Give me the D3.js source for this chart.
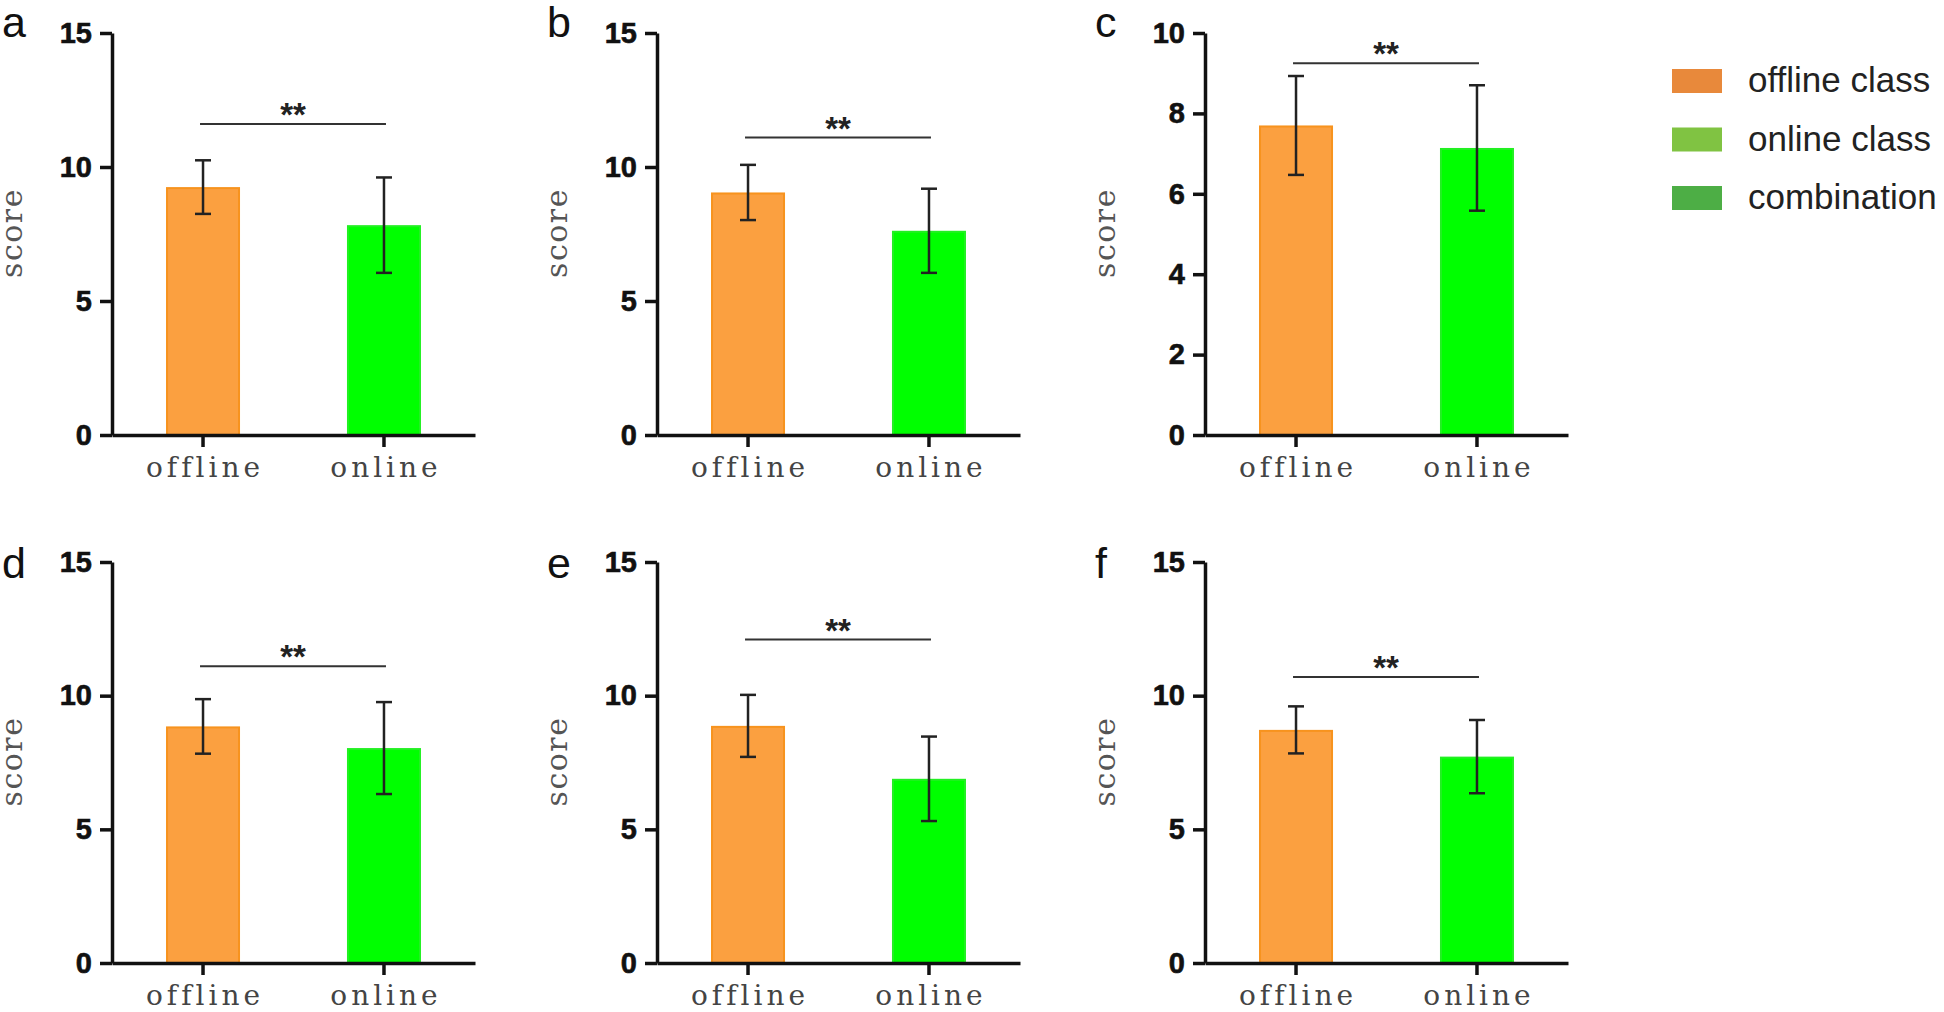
<!DOCTYPE html>
<html>
<head>
<meta charset="utf-8">
<script src="https://cdn.jsdelivr.net/npm/d3@7"></script>
<style>
  body { margin: 0; background: #fff; }
</style>
</head>
<body>
<div id="chart"></div>
<script>
// values
const panels      = ['a', 'b', 'c', 'd', 'e', 'f']
const groups      = ['offline', 'online']
const offlineMean = [9.25, 9.05, 7.70, 8.85, 8.87, 8.72]
const offlineSD   = [1.00, 1.03, 1.23, 1.02, 1.16, 0.88]
const onlineMean  = [7.83, 7.62, 7.14, 8.04, 6.89, 7.72]
const onlineSD    = [1.78, 1.57, 1.56, 1.72, 1.58, 1.37]
const sigLevel    = [11.6, 11.1, 9.25, 11.1, 12.1, 10.7]
const yMax        = [15, 15, 10, 15, 15, 15]
const yTicks      = [[0, 5, 10, 15], [0, 5, 10, 15], [0, 2, 4, 6, 8, 10],
                     [0, 5, 10, 15], [0, 5, 10, 15], [0, 5, 10, 15]]
const legendNames  = ['offline class', 'online class', 'combination']
const legendColors = ['#e8893b', '#80c342', '#4dae45']

const width = 1944
const height = 1012
const colX = [112, 657, 1205]
const rowTop = [33, 562]
const rowZero = [435, 963]
const rowLabelBase = [37, 578]
const plotW = 363

const svg = d3.select('#chart')
  .append('svg')
  .attr('width', width)
  .attr('height', height)

const x = d3.scaleBand()
  .domain(groups)
  .range([0, plotW])
  .paddingInner(0.591)
  .paddingOuter(0.2985)

const fills = { offline: '#fba040', online: '#00ff00' }
const strokes = { offline: '#f7931e', online: '#22f022' }

panels.forEach((p, i) => {
  const col = i % 3, row = Math.floor(i / 3)
  const top = rowTop[row], zero = rowZero[row]
  const g = svg.append('g').attr('transform', `translate(${colX[col]},0)`)

  const y = d3.scaleLinear().domain([0, yMax[i]]).range([zero, top])

  const data = [
    { group: 'offline', mean: offlineMean[i], sd: offlineSD[i] },
    { group: 'online', mean: onlineMean[i], sd: onlineSD[i] }
  ]

  g.selectAll('rect.bar')
    .data(data)
    .join('rect')
      .attr('class', 'bar')
      .attr('x', d => x(d.group) + 1)
      .attr('y', d => y(d.mean) + 1)
      .attr('width', x.bandwidth() - 2)
      .attr('height', d => y(0) - y(d.mean) - 1)
      .attr('fill', d => fills[d.group])
      .attr('stroke', d => strokes[d.group])
      .attr('stroke-width', 2)

  // error bars
  const cx = d => x(d.group) + x.bandwidth() / 2
  const eb = g.append('g').attr('stroke', '#222').attr('stroke-width', 2.5)
  eb.selectAll('line.v').data(data).join('line')
    .attr('x1', cx).attr('x2', cx)
    .attr('y1', d => y(d.mean + d.sd)).attr('y2', d => y(d.mean - d.sd))
  eb.selectAll('line.t').data(data).join('line')
    .attr('x1', d => cx(d) - 8).attr('x2', d => cx(d) + 8)
    .attr('y1', d => y(d.mean + d.sd)).attr('y2', d => y(d.mean + d.sd))
  eb.selectAll('line.b').data(data).join('line')
    .attr('x1', d => cx(d) - 8).attr('x2', d => cx(d) + 8)
    .attr('y1', d => y(d.mean - d.sd)).attr('y2', d => y(d.mean - d.sd))

  // significance bracket
  const x1 = x('offline') + x.bandwidth() / 2 - 3
  const x2 = x('online') + x.bandwidth() / 2 + 2
  g.append('line')
    .attr('x1', x1).attr('x2', x2)
    .attr('y1', y(sigLevel[i])).attr('y2', y(sigLevel[i]))
    .attr('stroke', '#333').attr('stroke-width', 2)
  g.append('text')
    .attr('x', (x1 + x2) / 2)
    .attr('y', y(sigLevel[i]) + 2)
    .attr('text-anchor', 'middle')
    .attr('font-family', 'Liberation Sans, Arial, sans-serif')
    .attr('font-weight', 'bold')
    .attr('font-size', 33)
    .attr('fill', '#222')
    .text('**')

  // axes
  const yAxis = g.append('g')
    .call(d3.axisLeft(y).tickValues(yTicks[i]).tickSize(12).tickSizeOuter(0).tickPadding(8))
  yAxis.selectAll('path, line').attr('stroke', '#111').attr('stroke-width', 3.5)
  yAxis.selectAll('text')
    .attr('font-family', 'Liberation Sans, Arial, sans-serif')
    .attr('font-weight', 'bold')
    .attr('font-size', 29)
    .attr('fill', '#111')
    .attr('stroke', '#111')
    .attr('stroke-width', 0.6)

  const xAxis = g.append('g')
    .attr('transform', `translate(0,${zero})`)
    .call(d3.axisBottom(x).tickSize(12).tickSizeOuter(0))
  xAxis.selectAll('path, line').attr('stroke', '#111').attr('stroke-width', 3.5)
  xAxis.selectAll('text')
    .attr('y', 42).attr('dy', 0).attr('dx', 2)
    .attr('font-family', 'DejaVu Serif, serif')
    .attr('font-size', 28)
    .attr('letter-spacing', 4)
    .attr('fill', '#444')

  // y title
  g.append('text')
    .attr('transform', `translate(-98,${(top + zero) / 2}) rotate(-90)`)
    .attr('dy', '0.26em')
    .attr('dx', 1)
    .attr('text-anchor', 'middle')
    .attr('font-family', 'DejaVu Serif, serif')
    .attr('font-size', 30)
    .attr('letter-spacing', 1.5)
    .attr('fill', '#555')
    .text('score')

  // panel letter
  g.append('text')
    .attr('x', -110)
    .attr('y', rowLabelBase[row])
    .attr('font-family', 'Liberation Sans, Arial, sans-serif')
    .attr('font-size', 43)
    .attr('fill', '#111')
    .text(p)
})

// legend
const legend = svg.append('g').attr('transform', 'translate(1672,69)')
legend.selectAll('rect')
  .data(legendNames)
  .join('rect')
    .attr('x', 0)
    .attr('y', (d, i) => i * 58.5)
    .attr('width', 50)
    .attr('height', 24)
    .attr('fill', (d, i) => legendColors[i])
legend.selectAll('text')
  .data(legendNames)
  .join('text')
    .attr('x', 76)
    .attr('y', (d, i) => i * 58.5 + 23)
    .attr('font-family', 'Liberation Sans, Arial, sans-serif')
    .attr('font-size', 35)
    .attr('fill', '#222')
    .text(d => d)
</script>
</body>
</html>
